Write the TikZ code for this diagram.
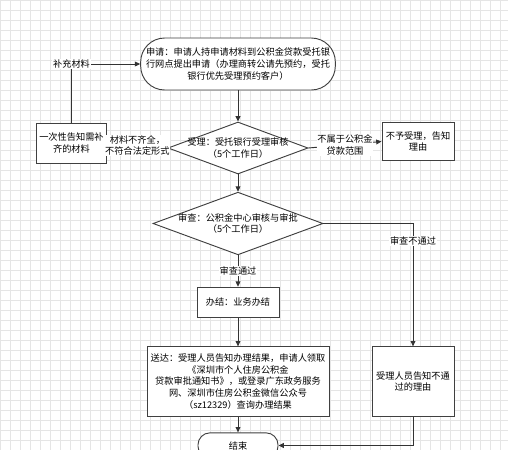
\documentclass[tikz,border=0pt]{standalone}
\usepackage{fontspec}
\newfontfamily\cjkfont{Noto Sans CJK SC}
\usetikzlibrary{shapes.geometric,arrows.meta,positioning}
\newcommand{\FlowFont}{\cjkfont\fontsize{6.9pt}{8.8pt}\selectfont}
\tikzset{
  flow grid/.style={draw=gray!20, line width=0.3pt},
  flow line/.style={draw=black!80, line width=0.7pt},
  flow arrow/.style={flow line, -{Triangle[length=4pt,width=3.6pt]}},
  flow box/.style={draw=black!75, fill=white, line width=0.7pt,
    align=center, inner sep=1pt, font=\FlowFont},
  flow terminal/.style={flow box, rounded corners=18pt},
  flow decision/.style={draw=black!75, fill=white, line width=0.7pt,
    shape=diamond, inner sep=0pt},
  flow text/.style={align=center, font=\FlowFont, inner sep=0.5pt},
  flow label/.style={flow text, fill=white}
}
\begin{document}
\begin{tikzpicture}[x=0.75pt,y=-0.75pt]
  \useasboundingbox (0,0) rectangle (508,450);
  \clip (0,0) rectangle (508,450);
  \fill[white] (0,0) rectangle (508,450);
  \draw[flow grid, step=7.5pt] (0,0) grid (508,450);

  % main column
  \node[flow terminal, minimum width=146pt, minimum height=39pt]
    (flow-apply) at (238,64)
    {申请：申请人持申请材料到公积金贷款受托银\\行网点提出申请（办理商转公请先预约，受托\\银行优先受理预约客户）};
  \node[flow decision, minimum width=105pt, minimum height=39pt,
    label={[flow text]center:受理：受托银行受理审核\\（5个工作日）}]
    (flow-accept) at (238,148) {};
  \node[flow decision, minimum width=127.5pt, minimum height=47pt,
    label={[flow text]center:审查：公积金中心审核与审批\\（5个工作日）}]
    (flow-review) at (238,223.5) {};
  \node[flow box, minimum width=61.5pt, minimum height=23pt]
    (flow-finish) at (238,302.5) {办结：业务办结};
  \node[flow box, minimum width=136.5pt, minimum height=52pt]
    (flow-deliver) at (238,381.5)
    {送达：受理人员告知办理结果，申请人领取\\《深圳市个人住房公积金\\贷款审批通知书》，或登录广东政务服务\\网、深圳市住房公积金微信公众号\\（sz12329）查询办理结果};
  \node[flow box, rounded corners=9pt, minimum width=60pt, minimum height=19pt]
    (flow-end) at (238,445.5) {结束};

  % side boxes
  \node[flow box, minimum width=53pt, minimum height=30pt]
    (flow-supplement) at (71.5,143) {一次性告知需补\\齐的材料};
  \node[flow box, minimum width=54pt, minimum height=29pt]
    (flow-reject) at (418,141.5) {不予受理，告知\\理由};
  \node[flow box, minimum width=61.5pt, minimum height=52pt]
    (flow-fail) at (413,381.5) {受理人员告知不通\\过的理由};

  % connectors
  \draw[flow arrow] (flow-apply) -- (flow-accept);
  \draw[flow arrow] (flow-accept) -- (flow-review);
  \draw[flow arrow] (flow-review) -- node[flow label] {审查通过} (flow-finish);
  \draw[flow arrow] (flow-finish) -- (flow-deliver);
  \draw[flow arrow] (flow-deliver) -- (flow-end);
  \draw[flow arrow] (flow-accept.west) -- node[flow label]
    {材料不齐全，\\不符合法定形式} (flow-supplement.east);
  \draw[flow arrow] (flow-supplement.north) |- node[flow label] {补充材料}
    (flow-apply.west);
  \draw[flow arrow] (flow-accept.east) -- node[flow label]
    {不属于公积金\\贷款范围} (flow-reject.west);
  \draw[flow arrow] (flow-review.east) -| node[flow label, pos=0.57] {审查不通过}
    (flow-fail.north);
  \draw[flow arrow] (flow-fail.south) |- (flow-end.east);
\end{tikzpicture}
\end{document}
